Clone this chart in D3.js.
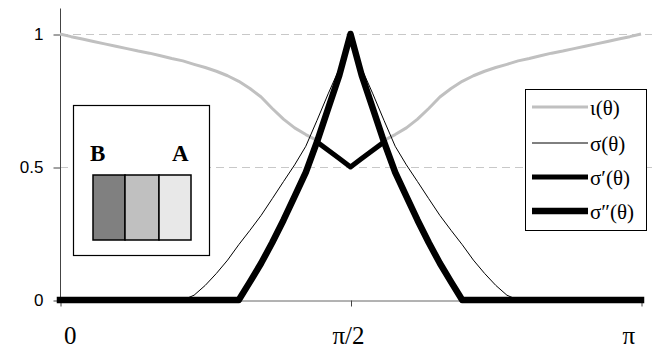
<!DOCTYPE html>
<html>
<head>
<meta charset="utf-8">
<script src="https://cdn.jsdelivr.net/npm/d3@7"></script>
<style>
  body { margin: 0; background: #fff; }
  svg { display: block; }
</style>
</head>
<body>
<div id="main-chart"></div>
<script>
// Sample angles, in units of pi (0 .. pi, 52 steps)
let theta = d3.range(0, 53).map(function (i) { return i / 52; });

// iota(theta), grey curve
let iota = [1.000, 0.990, 0.981, 0.972, 0.963, 0.954, 0.945, 0.936, 0.928, 0.918,
    0.908, 0.899, 0.886, 0.874, 0.860, 0.843, 0.822, 0.795, 0.763, 0.720,
    0.680, 0.647, 0.622, 0.600, 0.568, 0.534, 0.500, 0.534, 0.568, 0.600,
    0.622, 0.647, 0.680, 0.720, 0.763, 0.795, 0.822, 0.843, 0.860, 0.874,
    0.886, 0.899, 0.908, 0.918, 0.928, 0.936, 0.945, 0.954, 0.963, 0.972,
    0.981, 0.990, 1.000];

// sigma(theta), thin black
let sigma = [0, 0, 0, 0, 0, 0, 0, 0, 0, 0,
    0, 0, 0.018, 0.055, 0.100, 0.150, 0.208, 0.262, 0.318, 0.381,
    0.445, 0.508, 0.578, 0.675, 0.775, 0.870, 1.000, 0.870, 0.775, 0.675,
    0.578, 0.508, 0.445, 0.381, 0.318, 0.262, 0.208, 0.150, 0.100, 0.055,
    0.018, 0, 0, 0, 0, 0, 0, 0, 0, 0,
    0, 0, 0];

// sigma'(theta)
let sigma1 = [0, 0, 0, 0, 0, 0, 0, 0, 0, 0,
    0, 0, 0, 0, 0, 0, 0, 0.068, 0.138, 0.216,
    0.300, 0.390, 0.480, 0.594, 0.563, 0.532, 0.500, 0.532, 0.563, 0.594,
    0.480, 0.390, 0.300, 0.216, 0.138, 0.068, 0, 0, 0, 0,
    0, 0, 0, 0, 0, 0, 0, 0, 0, 0,
    0, 0, 0];

// sigma''(theta)
let sigma2 = [0, 0, 0, 0, 0, 0, 0, 0, 0, 0,
    0, 0, 0, 0, 0, 0, 0, 0.068, 0.138, 0.216,
    0.300, 0.390, 0.480, 0.594, 0.720, 0.845, 1.000, 0.845, 0.720, 0.594,
    0.480, 0.390, 0.300, 0.216, 0.138, 0.068, 0, 0, 0, 0,
    0, 0, 0, 0, 0, 0, 0, 0, 0, 0,
    0, 0, 0];

let xTicks = [0, 0.5, 1];
let xTickLabels = ['0', 'π/2', 'π'];
let yTicks = [0, 0.5, 1];
let yTickLabels = ['0', '0.5', '1'];
let gridValues = [0.5, 1];
let legendLabels = ['ι(θ)', 'σ(θ)', 'σ′(θ)', 'σ″(θ)'];

let serif = '"Liberation Serif", "Times New Roman", serif';
let sans = '"Liberation Sans", Arial, sans-serif';

// Series styles
let styles = [
    { color: '#c0c0c0', width: 3 },
    { color: '#000', width: 1 },
    { color: '#000', width: 5 },
    { color: '#000', width: 6.5 }
];
let series = [iota, sigma, sigma1, sigma2];

let svgWidth = 654, svgHeight = 347;

// Set ranges
let x = d3.scaleLinear().domain([0, 1]).range([60, 641]);
let y = d3.scaleLinear().domain([0, 1]).range([300, 34]);

let svg = d3.select('#main-chart')
    .append('svg')
    .attr('width', svgWidth)
    .attr('height', svgHeight);

// Dashed grid lines
svg.selectAll('.grid')
    .data(gridValues)
    .enter().append('line')
    .attr('class', 'grid')
    .attr('x1', x(0))
    .attr('x2', 652)
    .attr('y1', function (d) { return y(d) + 0.5; })
    .attr('y2', function (d) { return y(d) + 0.5; })
    .attr('stroke', '#c8c8c8')
    .attr('stroke-width', 1)
    .attr('stroke-dasharray', '8,5');

// Y axis
let yAxis = svg.append('g')
    .attr('transform', 'translate(' + (x(0) + 0.5) + ',0.5)')
    .call(d3.axisLeft(y)
        .tickValues(yTicks)
        .tickSize(7)
        .tickPadding(10)
        .tickFormat(function (d, i) { return yTickLabels[i]; }));
yAxis.select('.domain').remove();
yAxis.append('line')
    .attr('x1', 0).attr('x2', 0)
    .attr('y1', 8).attr('y2', y(0))
    .attr('stroke', '#444');
yAxis.selectAll('.tick line').attr('stroke', '#444');
yAxis.selectAll('.tick text')
    .attr('fill', '#000')
    .style('font-family', sans)
    .style('font-size', '17px');

// X axis
let xAxis = svg.append('g')
    .attr('transform', 'translate(0.5,' + (y(0) + 0.5) + ')')
    .call(d3.axisBottom(x)
        .tickValues(xTicks)
        .tickSize(6)
        .tickSizeOuter(0)
        .tickFormat(function (d, i) { return xTickLabels[i]; }));
xAxis.select('.domain').attr('stroke', '#666');
xAxis.selectAll('.tick line').attr('stroke', '#444');
xAxis.selectAll('.tick text')
    .attr('fill', '#000')
    .attr('y', 43)
    .attr('dy', 0)
    .attr('text-anchor', function (d, i) { return ['start', 'middle', 'end'][i]; })
    .attr('dx', function (d, i) { return [3, -3, -7][i]; })
    .style('font-family', serif)
    .style('font-size', '25px');

// Series lines
let line = d3.line()
    .x(function (d, i) { return x(theta[i]); })
    .y(function (d) { return y(d); });

series.forEach(function (s, k) {
    svg.append('path')
        .datum(s)
        .attr('fill', 'none')
        .attr('stroke', styles[k].color)
        .attr('stroke-width', styles[k].width)
        .attr('stroke-linejoin', 'round')
        .attr('stroke-linecap', k > 1 ? 'square' : 'butt')
        .attr('d', line);
});

// Inset diagram
let inset = svg.append('g');
inset.append('rect')
    .attr('x', 73.5).attr('y', 105.5)
    .attr('width', 136).attr('height', 150)
    .attr('fill', '#fff')
    .attr('stroke', '#000')
    .attr('stroke-width', 1.2);
let insetColors = ['#808080', '#c0c0c0', '#e8e8e8'];
let insetEdges = [93, 125, 159, 191];
insetColors.forEach(function (c, i) {
    inset.append('rect')
        .attr('x', insetEdges[i]).attr('y', 175)
        .attr('width', insetEdges[i + 1] - insetEdges[i]).attr('height', 65)
        .attr('fill', c)
        .attr('stroke', '#000')
        .attr('stroke-width', 1.5);
});
inset.append('text')
    .attr('x', 90).attr('y', 161)
    .style('font-family', serif).style('font-size', '23px').style('font-weight', 'bold')
    .text('B');
inset.append('text')
    .attr('x', 172).attr('y', 161)
    .style('font-family', serif).style('font-size', '23px').style('font-weight', 'bold')
    .text('A');

// Legend
let legend = svg.append('g');
legend.append('rect')
    .attr('x', 525.5).attr('y', 89.5)
    .attr('width', 121).attr('height', 141)
    .attr('fill', '#fff')
    .attr('stroke', '#000')
    .attr('stroke-width', 1);
let legendY = [107, 143, 177, 211];
legendLabels.forEach(function (label, i) {
    legend.append('line')
        .attr('x1', 532).attr('x2', 588)
        .attr('y1', legendY[i]).attr('y2', legendY[i])
        .attr('stroke', styles[i].color)
        .attr('stroke-width', styles[i].width);
    legend.append('text')
        .attr('x', 590).attr('y', legendY[i] + 8)
        .style('font-family', serif).style('font-size', '21px')
        .text(label);
});
</script>
</body>
</html>
